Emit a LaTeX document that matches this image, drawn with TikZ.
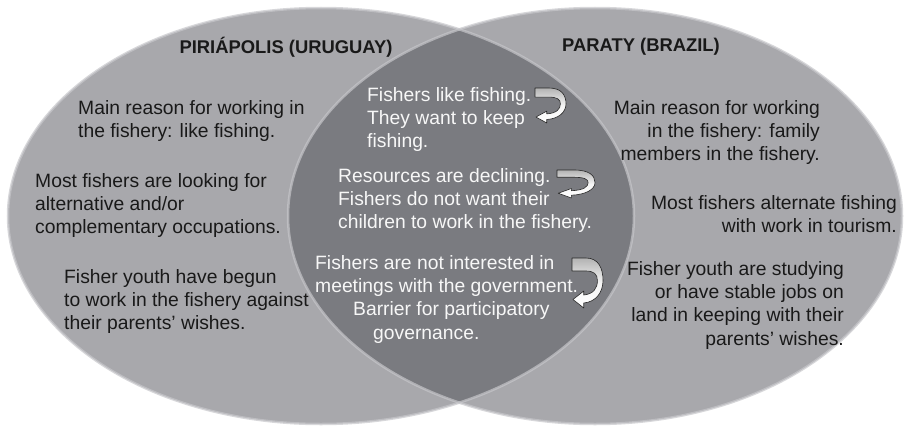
\documentclass[tikz,border=0pt]{standalone}
\usepackage{fontspec}
\setmainfont{Liberation Sans}
\usepackage{tikz}
\usetikzlibrary{calc}

\definecolor{lightvenn}{RGB}{168,168,172}
\definecolor{darkvenn}{RGB}{122,123,128}
\definecolor{rimvenn}{RGB}{198,198,202}

% curved arrow that turns back to the left
\tikzset{
  curvarrow/.pic={
    \shadedraw[top color=gray!60, bottom color=white, middle color=white!92!gray, draw=black!85, line width=0.6pt, line join=round]
      (0,0) -- (0.45,0) .. controls (0.85,0) and (1,0.2) .. (1,0.45)
      .. controls (1,0.7) and (0.75,0.88) .. (0.38,0.9) -- (0.38,1) -- (0.03,0.83) -- (0.38,0.66) -- (0.38,0.74)
      .. controls (0.7,0.72) and (0.82,0.6) .. (0.82,0.45) .. controls (0.82,0.32) and (0.7,0.26) .. (0.45,0.26) -- (0,0.26) -- cycle;
  }
}

\begin{document}
\begin{tikzpicture}[x=1pt, y=-1pt,
  venntext/.style={font=\fontsize{19.3}{23.3}\selectfont, inner sep=0pt, text=black!90},
  sharedtext/.style={venntext, text=white!94!gray},
  titletext/.style={font=\fontsize{18.4}{22}\selectfont\bfseries, inner sep=0pt, text=black!90}]
				\useasboundingbox (0,0) rectangle (904,428);
				
				% the two sets
				\def\leftset{(321,216) ellipse [x radius=313pt, y radius=208pt]}
				\def\rightset{(595,216) ellipse [x radius=307pt, y radius=208pt]}
				
				% fill both sets, then the overlap darker
				\fill[lightvenn] \leftset;
				\fill[lightvenn] \rightset;
				\begin{scope}
					\clip \leftset;
					\fill[darkvenn] \rightset;
				\end{scope}
				\draw[rimvenn, line width=2.5pt, opacity=0.7] \leftset;
				\draw[rimvenn, line width=2.5pt, opacity=0.7] \rightset;
				
				% titles
				\node[titletext, anchor=base] (piria) at (286,53) {PIRIÁPOLIS (URUGUAY)};
				\node[titletext, anchor=base] (paraty) at (641,52) {PARATY (BRAZIL)};
				
				% Piriapolis side
				\node[venntext, anchor=north west, align=left] (pirReason) at (78,100) {Main reason for working in\\the fishery: like fishing.};
				\node[venntext, anchor=north west, align=left] (pirAltern) at (35,173) {Most fishers are looking for\\alternative and/or\\complementary occupations.};
				\node[venntext, anchor=north west, align=left] (pirYouth) at (64,269) {Fisher youth have begun\\to work in the fishery against\\their parents' wishes.};
				
				% Paraty side
				\node[venntext, anchor=north east, align=right] (parReason) at (820,100) {Main reason for working\\in the fishery: family\\members in the fishery.};
				\node[venntext, anchor=north east, align=right] (parTourism) at (897,195) {Most fishers alternate fishing\\with work in tourism.};
				\node[venntext, anchor=north east, align=right] (parYouth) at (844,261) {Fisher youth are studying\\or have stable jobs on\\land in keeping with their\\parents' wishes.};
				
				% shared by both
				\node[sharedtext, anchor=north west, align=left] (sharedLike) at (367,87) {Fishers like fishing.\\They want to keep\\fishing.};
				\node[sharedtext, anchor=north west, align=left] (sharedDecl) at (338,168) {Resources are declining.\\Fishers do not want their\\children to work in the fishery.};
				\node[sharedtext, anchor=north west, align=left] (sharedGov) at (315,255) {Fishers are not interested in\\meetings with the government.\\\hspace*{38pt}Barrier for participatory\\\hspace*{58pt}governance.};
				
				% turning arrows
				\foreach \ax/\ay/\aw/\ah [count=\i] in {535/88/31/35, 557/170/38/28, 572/258/31/50}
					\pic (turn\i) [xscale=\aw, yscale=\ah] at (\ax,\ay) {curvarrow};
				
\end{tikzpicture}
\end{document}
